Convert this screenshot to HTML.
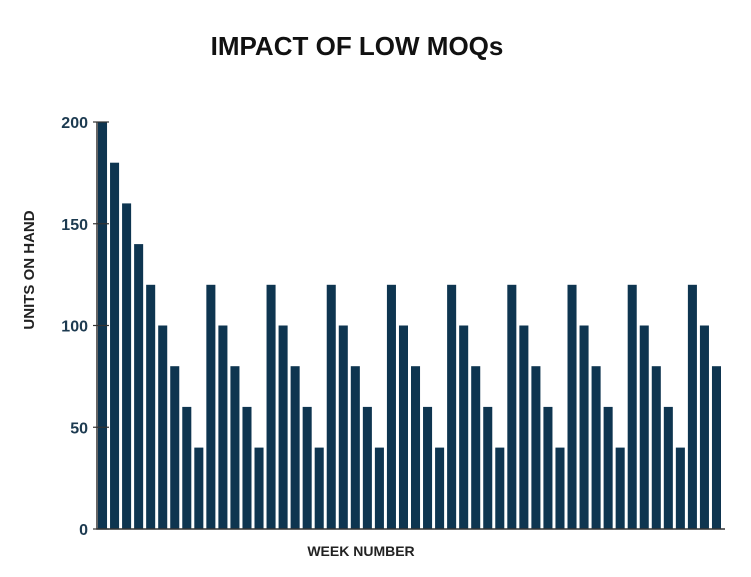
<!DOCTYPE html>
<html><head><meta charset="utf-8"><style>
body{margin:0;background:#fff;width:751px;height:572px;overflow:hidden}
text{font-family:"Liberation Sans",sans-serif}
</style></head><body>
<svg id="c" width="751" height="572">
<text x="357" y="55" text-anchor="middle" font-size="26" font-weight="bold" fill="#111">IMPACT OF LOW MOQs</text>
<text transform="translate(34,270) rotate(-90)" text-anchor="middle" font-size="15" font-weight="bold" fill="#222">UNITS ON HAND</text>
<text x="361" y="556" text-anchor="middle" font-size="14" font-weight="bold" fill="#222">WEEK NUMBER</text>
<g id="bars"></g><g id="axis"></g>
</svg>
<script>
const values=[200,180,160,140,120,100,80,60,40,
120,100,80,60,40,120,100,80,60,40,120,100,80,60,40,120,100,80,60,40,
120,100,80,60,40,120,100,80,60,40,120,100,80,60,40,120,100,80,60,40,
120,100,80];
const yTicks=[0,50,100,150,200];
const ns="http://www.w3.org/2000/svg";
const x0=97,x1=723,y0=529,yTop=122;
const pitch=(x1-x0)/values.length;
const y=v=>y0-(y0-yTop)*v/200;
const bars=document.getElementById('bars');
values.forEach((v,i)=>{
 const r=document.createElementNS(ns,'rect');
 r.setAttribute('x',x0+i*pitch+1);r.setAttribute('width',pitch-3);
 r.setAttribute('y',y(v));r.setAttribute('height',y0-y(v));
 r.setAttribute('fill','#0e3550');
 
 
 bars.appendChild(r);
});
const ax=document.getElementById('axis');
const l=document.createElementNS(ns,'path');
l.setAttribute('d',`M${x0} ${yTop}V${y0}H${x1+2}`);
l.setAttribute('stroke','#333');l.setAttribute('stroke-width','1.5');l.setAttribute('fill','none');


ax.appendChild(l);
yTicks.forEach(t=>{
 const tk=document.createElementNS(ns,'line');
 tk.setAttribute('x1',x0-4);tk.setAttribute('x2',x0+12);tk.setAttribute('y1',y(t));tk.setAttribute('y2',y(t));
 tk.setAttribute('stroke','#333');tk.setAttribute('stroke-width','1.2');
 
 
 ax.appendChild(tk);
 const tx=document.createElementNS(ns,'text');
 tx.setAttribute('x',88);tx.setAttribute('y',y(t)+6);tx.setAttribute('text-anchor','end');
 tx.setAttribute('font-size','16');tx.setAttribute('font-weight','bold');tx.setAttribute('fill','#1c3a50');
 tx.textContent=t;
 
 
 ax.appendChild(tx);
});
</script>
</body></html>
